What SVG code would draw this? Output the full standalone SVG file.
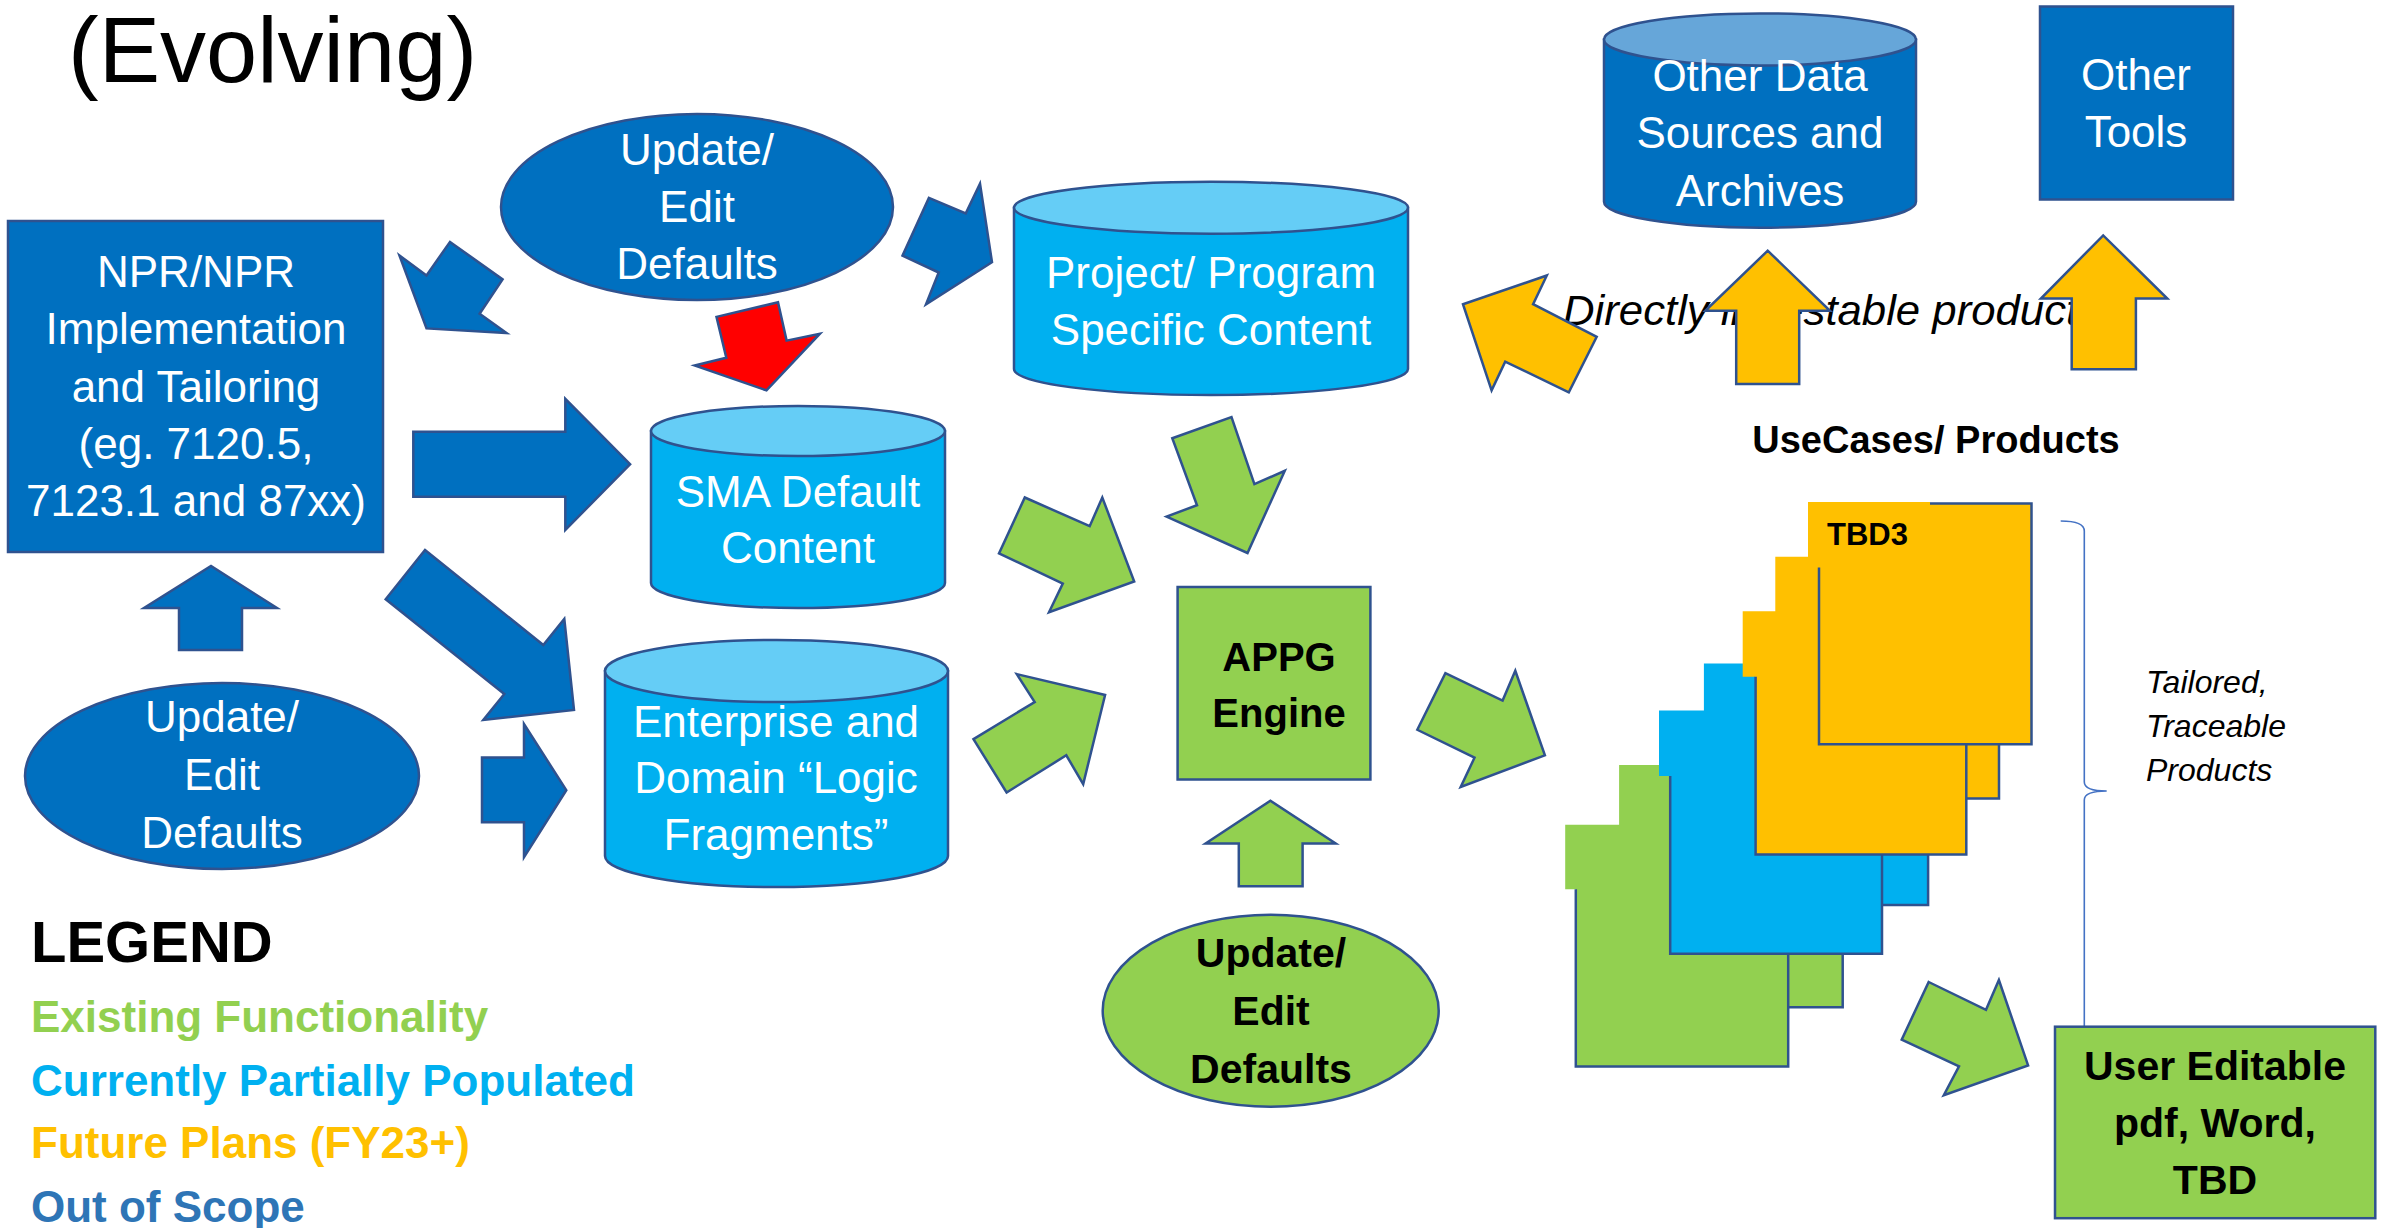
<svg xmlns="http://www.w3.org/2000/svg" width="2381" height="1228" viewBox="0 0 2381 1228">
<style>
.t{font-family:"Liberation Sans",Arial,sans-serif;}
.w{fill:#fff;font-size:44px;text-anchor:middle;}
.b{fill:#000;font-weight:bold;text-anchor:middle;}
.db{fill:#0070C0;stroke:#2F528F;stroke-width:2.5;}
.lb{fill:#00B0F0;stroke:#2F528F;stroke-width:2.5;}
.lbt{fill:#65CDF6;stroke:#2F528F;stroke-width:2.5;}
.gr{fill:#92D050;stroke:#2F528F;stroke-width:2.5;}
.ye{fill:#FFC000;stroke:#2F528F;stroke-width:2.5;}
.rd{fill:#FF0000;stroke:#2F528F;stroke-width:2.5;}
.ol{fill:none;stroke:#2F528F;stroke-width:2.5;}
.leg{font-weight:bold;font-size:44px;}
</style>

<g id="title">
<text class="t" x="68" y="82" font-size="92" fill="#000">(Evolving)</text>
</g>

<g id="npr">
<rect class="db" x="8" y="221" width="375" height="331"/>
<text class="t w" x="196" y="287">NPR/NPR</text>
<text class="t w" x="196" y="344">Implementation</text>
<text class="t w" x="196" y="402">and Tailoring</text>
<text class="t w" x="196" y="459">(eg. 7120.5,</text>
<text class="t w" x="196" y="516">7123.1 and 87xx)</text>
</g>

<g id="edit-top">
<ellipse class="db" cx="697" cy="207" rx="196" ry="93"/>
<text class="t w" x="697" y="165">Update/</text>
<text class="t w" x="697" y="222">Edit</text>
<text class="t w" x="697" y="279">Defaults</text>
</g>

<g id="edit-left">
<ellipse class="db" cx="222" cy="776" rx="197" ry="93"/>
<text class="t w" x="222" y="732">Update/</text>
<text class="t w" x="222" y="790">Edit</text>
<text class="t w" x="222" y="848">Defaults</text>
</g>

<g id="project">
<path class="lb" d="M1014,207.7 V369 A197,26 0 0 0 1408,369 V207.7 Z"/>
<ellipse class="lbt" cx="1211" cy="207.7" rx="197" ry="26"/>
<text class="t w" x="1211" y="288">Project/ Program</text>
<text class="t w" x="1211" y="345">Specific Content</text>
</g>

<g id="sma">
<path class="lb" d="M651,431 V583 A147,25 0 0 0 945,583 V431 Z"/>
<ellipse class="lbt" cx="798" cy="431" rx="147" ry="25"/>
<text class="t w" x="798" y="507">SMA Default</text>
<text class="t w" x="798" y="563">Content</text>
</g>

<g id="enterprise">
<path class="lb" d="M605,671 V856 A171.5,31 0 0 0 948,856 V671 Z"/>
<ellipse class="lbt" cx="776.5" cy="671" rx="171.5" ry="31"/>
<text class="t w" x="776" y="737">Enterprise and</text>
<text class="t w" x="776" y="793">Domain “Logic</text>
<text class="t w" x="776" y="850">Fragments”</text>
</g>

<g id="other-data">
<path class="db" d="M1604,39.4 V201.7 A156,26 0 0 0 1916,201.7 V39.4 Z"/>
<ellipse fill="#66A6D9" stroke="#2F528F" stroke-width="2.5" cx="1760" cy="39.4" rx="156" ry="26"/>
<text class="t w" x="1760" y="91">Other Data</text>
<text class="t w" x="1760" y="148">Sources and</text>
<text class="t w" x="1760" y="206">Archives</text>
</g>

<g id="other-tools">
<rect class="db" x="2040" y="6.5" width="193" height="193"/>
<text class="t w" x="2136" y="90">Other</text>
<text class="t w" x="2136" y="147">Tools</text>
</g>

<g id="appg">
<rect class="gr" x="1177.6" y="587" width="192.8" height="192.5"/>
<text class="t b" x="1279" y="671" font-size="40">APPG</text>
<text class="t b" x="1279" y="727" font-size="40">Engine</text>
</g>

<g id="edit-green">
<ellipse class="gr" cx="1270.7" cy="1010.7" rx="168" ry="96"/>
<text class="t b" x="1271" y="967" font-size="41">Update/</text>
<text class="t b" x="1271" y="1025" font-size="41">Edit</text>
<text class="t b" x="1271" y="1083" font-size="41">Defaults</text>
</g>

<g id="directly-label">
<text class="t" x="1563" y="325" font-size="42" font-style="italic" fill="#000" textLength="537" lengthAdjust="spacingAndGlyphs">Directly ingestable products</text>
</g>

<g id="usecases-label">
<text class="t" x="1936" y="453" font-size="38" font-weight="bold" text-anchor="middle" fill="#000">UseCases/ Products</text>
</g>

<g id="products">
<polygon fill="#92D050" points="1619.1,765.1 1670.2,765.1 1670.2,953.7 1842.7,953.7 1842.7,1007.3 1788.2,1007.3 1788.2,1066.4 1575.8,1066.4 1575.8,889.2 1565.2,889.2 1565.2,824.7 1619.1,824.7"/>
<polyline class="ol" points="1575.8,889.2 1575.8,1066.4 1788.2,1066.4 1788.2,953.7"/>
<polyline class="ol" points="1842.7,953.7 1842.7,1007.3 1788.2,1007.3"/>
<polygon fill="#00B0F0" points="1703.9,663.4 1755.6,663.4 1755.6,854.5 1928.1,854.5 1928.1,905.1 1882,905.1 1882,953.7 1670.2,953.7 1670.2,776 1659,776 1659,710.5 1703.9,710.5"/>
<polyline class="ol" points="1670.2,776 1670.2,953.7 1882,953.7 1882,854.5"/>
<polyline class="ol" points="1928.1,854.5 1928.1,905.1 1882,905.1"/>
<polygon fill="#FFC000" points="1808,502 1930,502 1930,503.6 2031.5,503.6 2031.5,744.3 1999,744.3 1999,798.4 1966.3,798.4 1966.3,854.5 1755.6,854.5 1755.6,676.8 1742.7,676.8 1742.7,611.3 1775.3,611.3 1775.3,556.7 1808,556.7"/>
<polyline class="ol" points="1819,567.6 1819,744.3 2031.5,744.3 2031.5,503.6 1930,503.6"/>
<polyline class="ol" points="1999,744.3 1999,798.4 1966.3,798.4"/>
<polyline class="ol" points="1755.6,676.8 1755.6,854.5 1966.3,854.5 1966.3,744.3"/>
<text class="t" x="1827" y="545" font-size="31" font-weight="bold" fill="#000">TBD3</text>
</g>

<g id="tailored-label">
<path d="M2060.7,521 Q2084.3,521 2084.3,531 L2084.3,782 Q2084.3,791 2106.7,791 Q2084.3,791 2084.3,800 L2084.3,1027" fill="none" stroke="#4472C4" stroke-width="1.6"/>
<text class="t" font-size="32" font-style="italic" fill="#000"><tspan x="2146" y="693">Tailored,</tspan><tspan x="2146" y="737">Traceable</tspan><tspan x="2146" y="781">Products</tspan></text>
</g>

<g id="user-editable">
<rect class="gr" x="2055" y="1026.7" width="320.3" height="191.5"/>
<text class="t b" x="2215" y="1080" font-size="41">User Editable</text>
<text class="t b" x="2215" y="1137" font-size="41">pdf, Word,</text>
<text class="t b" x="2215" y="1194" font-size="41">TBD</text>
</g>

<g id="legend">
<text class="t" x="31" y="962" font-size="58" font-weight="bold" fill="#000">LEGEND</text>
<text class="t leg" x="31" y="1032" fill="#92D050">Existing Functionality</text>
<text class="t leg" x="31" y="1096" fill="#00B0F0">Currently Partially Populated</text>
<text class="t leg" x="31" y="1158" fill="#FFC000">Future Plans (FY23+)</text>
<text class="t leg" x="31" y="1222" fill="#2E75B6">Out of Scope</text>
</g>

<g id="connectors">
<polygon class="db" points="399.5,255.6 426.5,275.5 450,241.9 502.6,279.4 479.6,313.8 506.6,333 426.5,328.4"/>
<polygon class="rd" points="716.5,316.9 778,302.3 786.6,340.6 819.9,333.7 766.5,390.4 694.7,365.5 726.3,357.8"/>
<polygon class="db" points="928.9,197.9 965.7,213.5 980,183.7 992,262.2 926,304.3 938.7,272.5 902.5,255.6"/>
<polygon class="db" points="413.3,431.7 565.3,431.7 565.3,398.8 630.1,464.2 565.3,530 565.3,496.7 413.3,496.7"/>
<polygon class="db" points="179,650 179,608 144,608 211,566 277,608 242,608 242,650"/>
<polygon class="db" points="425,550 543.3,645 564.3,619 574,710 483.3,720 504.3,694 385.7,599.3"/>
<polygon class="db" points="482,757.4 524,757.4 524,724.1 566.3,790.2 524,857.1 524,822.3 482,822.3"/>
<polygon class="gr" points="1024.8,497.5 1089.7,526.2 1102.3,497.5 1134.2,581.5 1049,612.3 1062.8,583.6 999,553.4"/>
<polygon class="gr" points="973.5,739.1 1034.7,702 1016.8,674.1 1105.1,695 1083.2,784.1 1066.3,755.3 1006.6,792.5"/>
<polygon class="gr" points="1172.3,438.2 1231.5,417.1 1254.4,484.1 1284.8,470.8 1247.5,553 1166.6,516.6 1197,505.2"/>
<polygon class="gr" points="1238.8,886.3 1238.8,843.5 1205.6,843.5 1270.4,800.8 1335.7,843.5 1302.6,843.5 1302.6,886.3"/>
<polygon class="gr" points="1417.3,729.8 1445.4,673.2 1502.6,700.6 1515.3,670.8 1544.9,755.3 1460.7,786.9 1474.5,757.7"/>
<polygon class="gr" points="1928.7,982 1986,1009.8 1998.9,980 2028.1,1065.4 1943.8,1095.2 1959,1066.4 1901.7,1039.6"/>
<polygon class="ye" points="1463,304.2 1546.8,275.5 1533.1,304.2 1596.7,336.8 1568.8,392.3 1505.2,361.6 1491.6,390.4"/>
<polygon class="ye" points="1736.2,383.9 1736.2,310.8 1705.3,310.8 1767.7,250.7 1830,310.8 1799.2,310.8 1799.2,383.9"/>
<polygon class="ye" points="2071.7,369.3 2071.7,298.5 2040.9,298.5 2103.2,235.4 2167.3,298.5 2135.9,298.5 2135.9,369.3"/>
</g>
</svg>
